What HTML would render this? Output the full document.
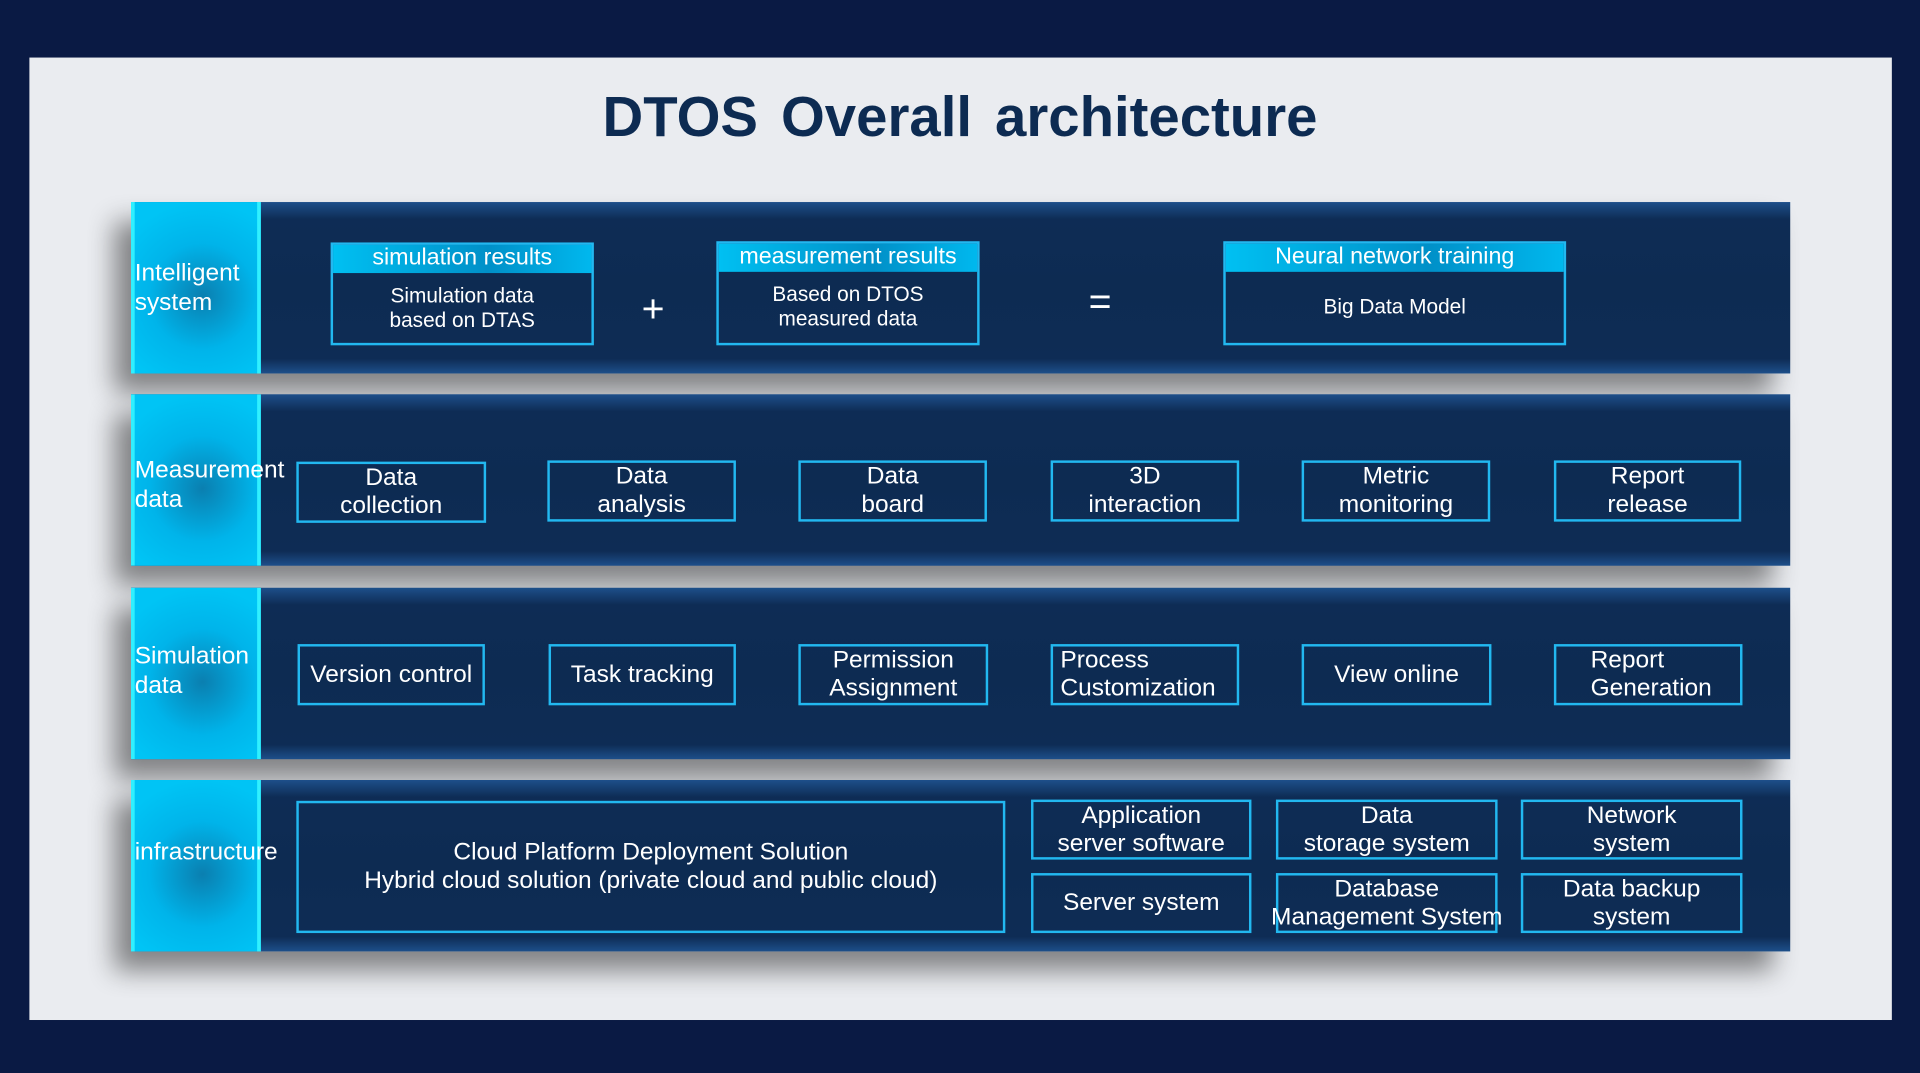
<!DOCTYPE html>
<html><head><meta charset="utf-8"><style>
html,body{margin:0;padding:0;background:#0a1a44;overflow:hidden}
#w{width:1568px;height:876px;position:relative;transform:scale(1.2245);transform-origin:0 0;font-family:"Liberation Sans",sans-serif;color:#fff}
.panel{position:absolute;left:24px;top:47px;width:1521px;height:786px;background:#eaecf0}
.title{position:absolute;left:0;width:1568px;top:68px;text-align:center;font-size:46px;font-weight:bold;color:#0d2b52;word-spacing:6px}
.band{position:absolute;left:107px;width:1355px;height:140px;background:linear-gradient(#1d4f8a 0,#0e2c55 14px,#0d2b52 50%,#0e2c55 calc(100% - 12px),#1d4f8a 100%);box-shadow:-14px 16px 20px rgba(0,0,0,.45)}
.lab{position:absolute;left:0;top:0;width:106px;height:140px;background:radial-gradient(circle at 55% 55%,#0a7fb0 0,#00b4ea 45%,#00c4f5 80%);box-shadow:inset 3px 0 0 #30f0ff,inset -3px 0 0 #30f0ff}
.lab span{position:absolute;left:3px;font-size:20px;line-height:24px;white-space:nowrap}
.b{position:absolute;border:2px solid #22b8f0;box-sizing:border-box;display:flex;align-items:center;justify-content:center;text-align:center;font-size:20px;line-height:23px;white-space:nowrap}
.hd{position:absolute;left:0;right:0;top:0;height:23px;background:linear-gradient(90deg,#00c0f2,#0090c8 60%,#00b8ee);font-size:19px;line-height:22px;text-align:center}
.bd{position:absolute;left:0;right:0;top:23px;bottom:0;display:flex;align-items:center;justify-content:center;font-size:17px;line-height:20px}
</style></head><body><div id="w">
<div class="panel"></div>
<div class="title">DTOS Overall architecture</div>

<div class="band" style="top:165px"><div class="lab"><span style="top:46px">Intelligent<br>system</span></div></div>
<div class="b" style="left:270px;top:198px;width:215px;height:84px;display:block"><div class="hd">simulation results</div><div class="bd">Simulation data<br>based on DTAS</div></div>
<div style="position:absolute;left:524px;top:234px;font-size:32px">+</div>
<div class="b" style="left:585px;top:197px;width:215px;height:85px;display:block"><div class="hd">measurement results</div><div class="bd">Based on DTOS<br>measured data</div></div>
<div style="position:absolute;left:889px;top:228px;font-size:32px">=</div>
<div class="b" style="left:999px;top:197px;width:280px;height:85px;display:block"><div class="hd">Neural network training</div><div class="bd">Big Data Model</div></div>

<div class="band" style="top:322px"><div class="lab"><span style="top:50px">Measurement<br>data</span></div></div>
<div class="b" style="left:242px;top:377px;width:155px;height:50px">Data<br>collection</div>
<div class="b" style="left:447px;top:376px;width:154px;height:50px">Data<br>analysis</div>
<div class="b" style="left:652px;top:376px;width:154px;height:50px">Data<br>board</div>
<div class="b" style="left:858px;top:376px;width:154px;height:50px">3D<br>interaction</div>
<div class="b" style="left:1063px;top:376px;width:154px;height:50px">Metric<br>monitoring</div>
<div class="b" style="left:1269px;top:376px;width:153px;height:50px">Report<br>release</div>

<div class="band" style="top:480px"><div class="lab"><span style="top:44px">Simulation<br>data</span></div></div>
<div class="b" style="left:243px;top:526px;width:153px;height:50px">Version control</div>
<div class="b" style="left:448px;top:526px;width:153px;height:50px">Task tracking</div>
<div class="b" style="left:652px;top:526px;width:155px;height:50px">Permission<br>Assignment</div>
<div class="b" style="left:858px;top:526px;width:154px;height:50px;justify-content:flex-start;text-align:left;padding-left:6px">Process<br>Customization</div>
<div class="b" style="left:1063px;top:526px;width:155px;height:50px">View online</div>
<div class="b" style="left:1269px;top:526px;width:154px;height:50px;justify-content:flex-start;text-align:left;padding-left:28px">Report<br>Generation</div>

<div class="band" style="top:637px"><div class="lab"><span style="top:47px">infrastructure</span></div></div>
<div class="b" style="left:242px;top:654px;width:579px;height:108px">Cloud Platform Deployment Solution<br>Hybrid cloud solution (private cloud and public cloud)</div>
<div class="b" style="left:842px;top:653px;width:180px;height:49px">Application<br>server software</div>
<div class="b" style="left:842px;top:713px;width:180px;height:49px">Server system</div>
<div class="b" style="left:1042px;top:653px;width:181px;height:49px">Data<br>storage system</div>
<div class="b" style="left:1042px;top:713px;width:181px;height:49px">Database<br>Management System</div>
<div class="b" style="left:1242px;top:653px;width:181px;height:49px">Network<br>system</div>
<div class="b" style="left:1242px;top:713px;width:181px;height:49px">Data backup<br>system</div>
</div></body></html>
